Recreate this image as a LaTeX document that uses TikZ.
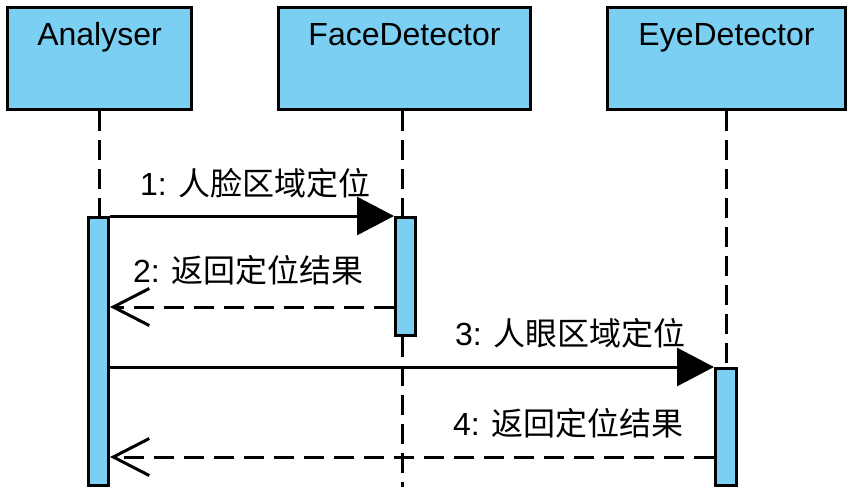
\documentclass[tikz,border=0pt]{standalone}
\usepackage{fontspec}
\setmainfont{Liberation Sans}
\newfontfamily\cjk{Noto Sans CJK SC}
\usetikzlibrary{arrows.meta}
\definecolor{lifeblue}{HTML}{7ACFF3}
\begin{document}
\begin{tikzpicture}[x=1pt,y=-1pt,
  objbox/.style={draw, line width=3pt, fill=lifeblue, inner sep=0pt, minimum height=102pt},
  actbar/.style={draw, line width=3pt, fill=lifeblue, inner sep=0pt, minimum width=20pt},
  lifeline/.style={line width=3pt, dash pattern=on 20pt off 9pt},
  callmsg/.style={line width=3pt, -{Triangle[length=37pt,width=38pt]}},
  retmsg/.style={line width=3pt, dash pattern=on 20pt off 10pt, -{Straight Barb[length=36pt,width=37pt,line width=3pt]}},
  objtxt/.style={font=\fontsize{32}{38}\selectfont, anchor=base, inner sep=0pt},
  msgtxt/.style={font=\fontsize{32}{38}\selectfont, anchor=base west, inner sep=0pt}]
\useasboundingbox (0,0) rectangle (861,498);

% object boxes
\node[objbox, minimum width=184pt] (boxA) at (99.5,58.5) {};
\node[objbox, minimum width=252pt] (boxF) at (404.5,58.5) {};
\node[objbox, minimum width=238pt] (boxE) at (726.5,58.5) {};
\node[objtxt] (tA) at (99.5,45) {Analyser};
\node[objtxt] (tF) at (404.5,45) {FaceDetector};
\node[objtxt] (tE) at (726.5,45) {EyeDetector};

% lifeline x positions
\coordinate (lA) at (99,0);
\coordinate (lF) at (402,0);
\coordinate (lE) at (726,0);
\coordinate (endF) at (402,487);

% lifelines
\draw[lifeline] (lA |- boxA.south) -- (lA |- 0,217);
\draw[lifeline] (lF |- boxF.south) -- (lF |- 0,217);
\draw[lifeline] (lF |- 0,337) -- (endF);
\draw[lifeline] (lE |- boxE.south) -- (lE |- 0,367);

% activation bars
\node[actbar, minimum height=268pt] (actA) at (98.5,351.5) {};
\node[actbar, minimum height=118pt] (actF) at (405.5,276.5) {};
\node[actbar, minimum height=117pt, minimum width=21pt] (actE) at (726,427) {};

% message levels
\coordinate (m1) at (0,216);
\coordinate (m2) at (0,307);
\coordinate (m3) at (0,367);
\coordinate (m4) at (0,457);

% messages
\draw[callmsg] (actA.east |- m1) -- (actF.west |- m1);
\draw[retmsg] (actF.west |- m2) -- (actA.east |- m2);
\draw[callmsg] (actA.east |- m3) -- (actE.west |- m3);
\draw[retmsg] (actE.west |- m4) -- (actA.east |- m4);

% labels
\node[msgtxt] (l1) at (140,195) {1: {\cjk 人脸区域定位}};
\node[msgtxt] (l2) at (133,282) {2: {\cjk 返回定位结果}};
\node[msgtxt] (l3) at (455,345) {3: {\cjk 人眼区域定位}};
\node[msgtxt] (l4) at (453,435) {4: {\cjk 返回定位结果}};
\end{tikzpicture}
\end{document}
